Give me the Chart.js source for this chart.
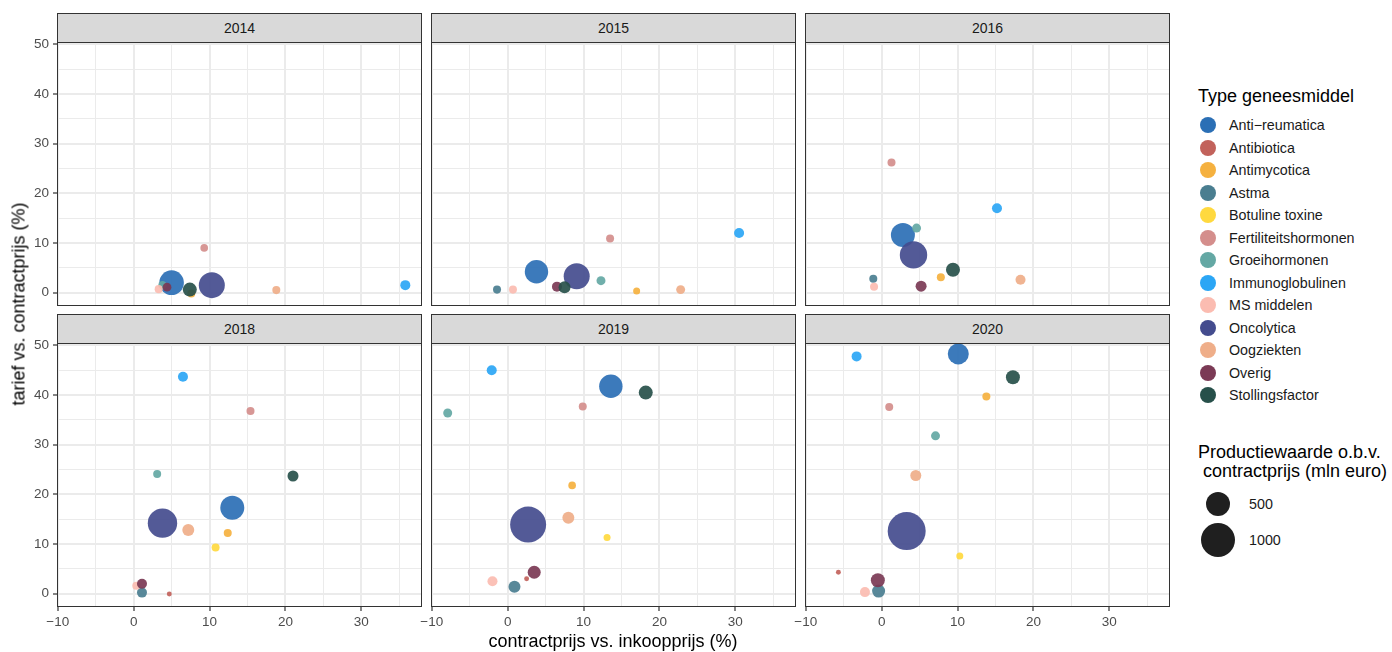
<!DOCTYPE html>
<html>
<head>
<meta charset="utf-8">
<script src="https://cdn.jsdelivr.net/npm/chart.js@4.4.1/dist/chart.umd.min.js"></script>
<style>
  body { margin: 0; background: #fff; font-family: 'Liberation Sans', Arial, sans-serif; }
  #wrap { position: relative; width: 1392px; height: 652px; overflow: hidden; }
  #wrap canvas { position: absolute; }
  .strip { position: absolute; background: #d9d9d9; border: 1px solid #333; box-sizing: border-box;
           text-align: center; font-size: 14px; color: #1a1a1a; }
  .frame { position: absolute; border: 1.5px solid #333; box-sizing: border-box; pointer-events: none; }
  .ytitle { position: absolute; left: 19px; top: 304px; transform: translate(-50%, -50%) rotate(-90deg);
            white-space: nowrap; font-size: 18px; color: #000; }
  .xtitle { position: absolute; left: 613px; top: 641px; transform: translate(-50%, -50%);
            white-space: nowrap; font-size: 18px; color: #000; }
  .lg-title { position: absolute; left: 1198px; font-size: 18px; color: #000; white-space: pre; line-height: 19px; }
  .lg-item { position: absolute; left: 1229px; font-size: 14.3px; color: #1a1a1a; transform: translateY(-50%); white-space: nowrap; }
  .dot { position: absolute; border-radius: 50%; }
</style>
</head>
<body>
<div id="wrap"></div>
<script>
// categorieën en kleuren
const categories = ['Anti\u2212reumatica', 'Antibiotica', 'Antimycotica', 'Astma', 'Botuline toxine',
  'Fertiliteitshormonen', 'Groeihormonen', 'Immunoglobulinen', 'MS middelen', 'Oncolytica',
  'Oogziekten', 'Overig', 'Stollingsfactor'];
const colors = ['#2b6fb5', '#c2625b', '#f5b13f', '#4a7e90', '#ffd93f', '#d48e8c', '#64a8a4',
  '#2ba6f5', '#fbbcb1', '#444c8e', '#efae89', '#7b3a55', '#27504a'];

const years = ['2014', '2015', '2016', '2018', '2019', '2020'];
const xTicks = [-10, 0, 10, 20, 30];
const yTicks = [0, 10, 20, 30, 40, 50];
const sizeBreaks = [500, 1000];

// per jaar: contractprijs vs. inkoopprijs (x), tarief vs. contractprijs (y), productiewaarde (mln euro)
const x2014 = [5.0, null, 7.6, null, null, 9.3, 3.8, 35.8, 3.3, 10.3, 18.8, 4.4, 7.4];
const y2014 = [2.0, null, -0.2, null, null, 9.0, 1.5, 1.5, 0.7, 1.5, 0.5, 1.1, 0.6];
const v2014 = [519, null, 55, null, null, 50, 60, 86, 55, 580, 55, 65, 168];

const x2015 = [3.8, null, 17.0, -1.4, null, 13.5, 12.3, 30.5, 0.7, 9.1, 22.8, 6.5, 7.5];
const y2015 = [4.2, null, 0.3, 0.6, null, 10.9, 2.4, 12.0, 0.6, 3.3, 0.6, 1.2, 1.1];
const v2015 = [470, null, 42, 55, null, 55, 69, 86, 55, 580, 69, 86, 123];

const x2016 = [2.8, null, 7.8, -1.1, null, 1.3, 4.6, 15.2, -1.0, 4.2, 18.3, 5.2, 9.4];
const y2016 = [11.6, null, 3.1, 2.8, null, 26.2, 13.0, 17.0, 1.2, 7.6, 2.6, 1.3, 4.6];
const v2016 = [494, null, 55, 55, null, 55, 69, 86, 55, 644, 86, 104, 168];

const x2018 = [13.0, 4.7, 12.4, 1.1, 10.8, 15.4, 3.1, 6.5, 0.35, 3.8, 7.2, 1.1, 21.0];
const y2018 = [17.3, -0.1, 12.2, 0.2, 9.3, 36.8, 24.1, 43.7, 1.6, 14.2, 12.8, 2.0, 23.7];
const v2018 = [494, 21, 55, 86, 55, 55, 55, 86, 55, 741, 123, 86, 104];

const x2019 = [13.6, 2.5, 8.5, 0.9, 13.1, 9.9, -7.9, -2.1, -2.0, 2.7, 8.0, 3.5, 18.2];
const y2019 = [41.8, 3.0, 21.8, 1.4, 11.3, 37.7, 36.4, 45.0, 2.5, 13.9, 15.3, 4.3, 40.5];
const v2019 = [470, 21, 50, 123, 42, 55, 69, 86, 86, 1111, 123, 145, 168];

const x2020 = [10.1, -5.7, 13.8, -0.4, 10.3, 1.0, 7.1, -3.3, -2.2, 3.3, 4.5, -0.5, 17.3];
const y2020 = [48.3, 4.3, 39.7, 0.5, 7.6, 37.6, 31.8, 47.8, 0.3, 12.6, 23.8, 2.7, 43.6];
const v2020 = [378, 21, 55, 145, 42, 55, 69, 86, 86, 1238, 104, 168, 168];

const xs = [x2014, x2015, x2016, x2018, x2019, x2020];
const ys = [y2014, y2015, y2016, y2018, y2019, y2020];
const vs = [v2014, v2015, v2016, v2018, v2019, v2020];

// layout
const FONT = "'Liberation Sans', Arial, sans-serif";
const colLeft = [57, 431, 805];
const rowTop = [42, 343];
const PW = 365, PH = 264;
const X_MIN = -10.1, X_MAX = 38.0, Y_MIN = -2.7, Y_MAX = 50.5;

const rad = v => 0.54 * Math.sqrt(v);
const fmt = v => v < 0 ? '\u2212' + Math.abs(v) : String(v);
const gridVals = (a, b) => { const out = []; for (let v = a; v <= b; v += 5) out.push(v); return out; };
const isMajor = (list, v) => list.includes(v);
const noPad = s => { s.paddingLeft = 0; s.paddingRight = 0; s.paddingTop = 0; s.paddingBottom = 0; };

const wrap = document.getElementById('wrap');

function addDiv(cls, css, text) {
  const d = document.createElement('div');
  d.className = cls;
  Object.assign(d.style, css);
  if (text !== undefined) d.textContent = text;
  wrap.appendChild(d);
  return d;
}

years.forEach((year, i) => {
  const col = i % 3, row = Math.floor(i / 3);
  const left = colLeft[col], top = rowTop[row];
  const axisW = col === 0 ? left : 0;
  const axisH = row === 1 ? 30 : 0;
  // extra ruimte zodat randlabels niet afgesneden worden
  const padL = col === 0 ? 0 : 16, padT = 10, padR = 6;

  const cv = document.createElement('canvas');
  cv.width = PW + axisW + padL + padR;
  cv.height = PH + axisH + padT;
  cv.style.left = (left - axisW - padL) + 'px';
  cv.style.top = (top - padT) + 'px';
  wrap.appendChild(cv);

  const datasets = categories.map((cat, k) => ({
    label: cat,
    order: -k,
    clip: 0,
    backgroundColor: colors[k] + 'eb',
    borderWidth: 0,
    data: xs[i][k] === null ? [] : [{ x: xs[i][k], y: ys[i][k], r: rad(vs[i][k]) }]
  }));

  new Chart(cv, {
    type: 'bubble',
    data: { datasets },
    options: {
      responsive: false,
      animation: false,
      events: [],
      layout: { padding: { left: padL, top: padT, right: padR, bottom: 0 }, autoPadding: false },
      plugins: { legend: { display: false }, tooltip: { enabled: false } },
      scales: {
        x: {
          type: 'linear', min: X_MIN, max: X_MAX,
          afterBuildTicks: s => { s.ticks = gridVals(-10, 35).map(v => ({ value: v })); },
          afterFit: s => { s.height = axisH; noPad(s); },
          border: { display: false },
          grid: {
            color: '#ebebeb',
            lineWidth: c => isMajor(xTicks, c.tick.value) ? 2 : 1,
            drawTicks: row === 1,
            tickLength: 4,
            tickWidth: 1.2,
            tickColor: c => isMajor(xTicks, c.tick.value) ? '#333' : 'rgba(0,0,0,0)'
          },
          ticks: {
            display: row === 1, autoSkip: false, maxRotation: 0, padding: 3,
            color: '#4d4d4d', font: { size: 13.5, family: FONT },
            callback: v => isMajor(xTicks, v) ? fmt(v) : ''
          }
        },
        y: {
          type: 'linear', min: Y_MIN, max: Y_MAX,
          afterBuildTicks: s => { s.ticks = gridVals(0, 50).map(v => ({ value: v })); },
          afterFit: s => { s.width = axisW; noPad(s); },
          border: { display: false },
          grid: {
            color: '#ebebeb',
            lineWidth: c => isMajor(yTicks, c.tick.value) ? 2 : 1,
            drawTicks: col === 0,
            tickLength: 4,
            tickWidth: 1.2,
            tickColor: c => isMajor(yTicks, c.tick.value) ? '#333' : 'rgba(0,0,0,0)'
          },
          ticks: {
            display: col === 0, autoSkip: false, padding: 4,
            color: '#4d4d4d', font: { size: 13.5, family: FONT },
            callback: v => isMajor(yTicks, v) ? fmt(v) : ''
          }
        }
      }
    }
  });

  // strip + paneelrand
  addDiv('strip', { left: left + 'px', top: (top - 29) + 'px', width: PW + 'px', height: '30px', lineHeight: '28px' }, year);
  addDiv('frame', { left: left + 'px', top: top + 'px', width: PW + 'px', height: PH + 'px' });
});

// as-titels
addDiv('ytitle', {}, 'tarief vs. contractprijs (%)');
addDiv('xtitle', {}, 'contractprijs vs. inkoopprijs (%)');

// legenda: type geneesmiddel
addDiv('lg-title', { top: '87px' }, 'Type geneesmiddel');
categories.forEach((cat, k) => {
  const cy = 125 + 22.5 * k;
  addDiv('dot', { left: (1208 - 8) + 'px', top: (cy - 8) + 'px', width: '16px', height: '16px', background: colors[k] });
  addDiv('lg-item', { top: cy + 'px' }, cat);
});

// legenda: productiewaarde
addDiv('lg-title', { top: '443px' }, 'Productiewaarde o.b.v.\n contractprijs (mln euro)');
sizeBreaks.forEach((b, k) => {
  const cy = [504, 540][k];
  const r = rad(b);
  addDiv('dot', { left: (1218 - r) + 'px', top: (cy - r) + 'px', width: 2 * r + 'px', height: 2 * r + 'px', background: '#1f1f1f' });
  addDiv('lg-item', { top: cy + 'px', left: '1249px' }, String(b));
});
</script>
</body>
</html>
